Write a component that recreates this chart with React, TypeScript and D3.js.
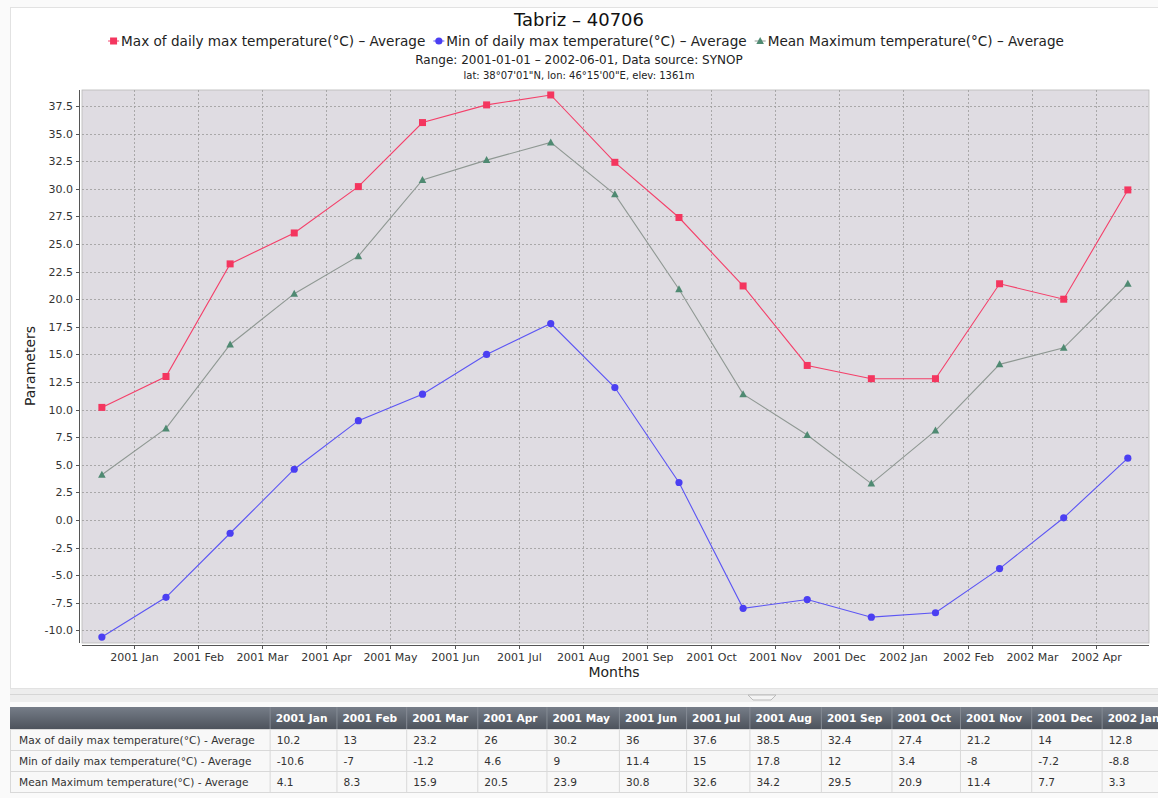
import React, { useEffect, useRef } from 'react';
import * as d3 from 'd3';

// data points, one per month (2001 Jan .. 2002 May)
const MONTHS = [
  '2001 Jan', '2001 Feb', '2001 Mar', '2001 Apr', '2001 May', '2001 Jun',
  '2001 Jul', '2001 Aug', '2001 Sep', '2001 Oct', '2001 Nov', '2001 Dec',
  '2002 Jan', '2002 Feb', '2002 Mar', '2002 Apr', '2002 May',
];
const MAX_OF_MAX = [10.2, 13, 23.2, 26, 30.2, 36, 37.6, 38.5, 32.4, 27.4, 21.2, 14, 12.8, 12.8, 21.4, 20, 29.9];
const MIN_OF_MAX = [-10.6, -7, -1.2, 4.6, 9, 11.4, 15, 17.8, 12, 3.4, -8, -7.2, -8.8, -8.4, -4.4, 0.2, 5.6];
const MEAN_MAX = [4.1, 8.3, 15.9, 20.5, 23.9, 30.8, 32.6, 34.2, 29.5, 20.9, 11.4, 7.7, 3.3, 8.1, 14.1, 15.6, 21.4];

const SERIES_NAMES = [
  'Max of daily max temperature(°C) – Average',
  'Min of daily max temperature(°C) – Average',
  'Mean Maximum temperature(°C) – Average',
];
const TABLE_NAMES = [
  'Max of daily max temperature(°C) - Average',
  'Min of daily max temperature(°C) - Average',
  'Mean Maximum temperature(°C) - Average',
];
const X_TICK_LABELS = [
  '2001 Jan', '2001 Feb', '2001 Mar', '2001 Apr', '2001 May', '2001 Jun',
  '2001 Jul', '2001 Aug', '2001 Sep', '2001 Oct', '2001 Nov', '2001 Dec',
  '2002 Jan', '2002 Feb', '2002 Mar', '2002 Apr',
];
const Y_TICKS = [-10, -7.5, -5, -2.5, 0, 2.5, 5, 7.5, 10, 12.5, 15, 17.5, 20, 22.5, 25, 27.5, 30, 32.5, 35, 37.5];

const COLORS = ['#f4365f', '#4b3ff2', '#4f8a72'];
const LINE_COLORS = ['#f4406a', '#5c55f4', '#8f9893'];
const FONT = '"DejaVu Sans", sans-serif';
const TABLE_FONT = '"DejaVu Sans", sans-serif';

function marker(g: any, shape: number, x: number, y: number, color: string) {
  if (shape === 0) {
    g.append('rect').attr('x', x - 3.5).attr('y', y - 3.5).attr('width', 7).attr('height', 7).attr('fill', color);
  } else if (shape === 1) {
    g.append('circle').attr('cx', x).attr('cy', y).attr('r', 3.6).attr('fill', color);
  } else {
    g.append('path').attr('d', `M${x},${y - 4}L${x + 3.8},${y + 3}L${x - 3.8},${y + 3}Z`).attr('fill', color);
  }
}

export default function App() {
  const ref = useRef<SVGSVGElement>(null);

  useEffect(() => {
    const svg = d3.select(ref.current);
    svg.selectAll('*').remove();

    const W = 1158, H = 798;
    const plot = { left: 82, right: 1149, top: 90, bottom: 643 };

    svg.append('rect').attr('width', W).attr('height', H).attr('fill', '#fafafa');
    // chart panel
    svg.append('rect').attr('x', 10.5).attr('y', 7.5).attr('width', W - 10).attr('height', 681)
      .attr('fill', '#fff').attr('stroke', '#e2e2e2');

    const x = d3.scaleLinear().domain([-0.31, 16.33]).range([plot.left, plot.right]);
    const y = d3.scaleLinear().domain([-11.14, 38.95]).range([plot.bottom, plot.top]);

    // titles
    svg.append('text').attr('x', 579).attr('y', 26).attr('text-anchor', 'middle')
      .attr('font-family', FONT).attr('font-size', 18).attr('fill', '#111').text('Tabriz – 40706');
    svg.append('text').attr('x', 579).attr('y', 64).attr('text-anchor', 'middle')
      .attr('font-family', FONT).attr('font-size', 12).attr('fill', '#222')
      .text('Range: 2001-01-01 – 2002-06-01, Data source: SYNOP');
    svg.append('text').attr('x', 579).attr('y', 79).attr('text-anchor', 'middle')
      .attr('font-family', FONT).attr('font-size', 10).attr('fill', '#222')
      .text('lat: 38°07\'01"N, lon: 46°15\'00"E, elev: 1361m');

    // legend
    const legend = svg.append('g');
    let lx = 0;
    SERIES_NAMES.forEach((name, i) => {
      const item = legend.append('g').attr('transform', `translate(${lx},0)`);
      item.append('line').attr('x1', 0).attr('x2', 11).attr('y1', 0).attr('y2', 0)
        .attr('stroke', LINE_COLORS[i]).attr('stroke-width', 1);
      marker(item, i, 5.5, 0, COLORS[i]);
      const t = item.append('text').attr('x', 13).attr('y', 5).attr('font-family', FONT)
        .attr('font-size', 13.6).attr('fill', '#222').text(name);
      lx += 13 + (t.node() as SVGTextElement).getComputedTextLength() + 8;
    });
    legend.attr('transform', `translate(${586 - (lx - 8) / 2},41)`);

    // plot background and grid
    svg.append('rect').attr('x', plot.left).attr('y', plot.top)
      .attr('width', plot.right - plot.left).attr('height', plot.bottom - plot.top)
      .attr('fill', '#dfdce2').attr('stroke', '#b8b8b8').attr('stroke-width', 0.8);

    const grid = svg.append('g').attr('stroke', '#9a9a9a').attr('stroke-width', 0.8)
      .attr('stroke-dasharray', '2,2');
    Y_TICKS.forEach(v => {
      grid.append('line').attr('x1', plot.left).attr('x2', plot.right)
        .attr('y1', Math.round(y(v)) + 0.5).attr('y2', Math.round(y(v)) + 0.5);
    });
    X_TICK_LABELS.forEach((_, i) => {
      grid.append('line').attr('y1', plot.top).attr('y2', plot.bottom)
        .attr('x1', Math.round(x(i + 0.5)) + 0.5).attr('x2', Math.round(x(i + 0.5)) + 0.5);
    });

    // axes
    const axisY = svg.append('g').attr('font-family', FONT).attr('font-size', 11).attr('fill', '#333');
    axisY.append('line').attr('x1', 79.5).attr('x2', 79.5).attr('y1', plot.top).attr('y2', plot.bottom)
      .attr('stroke', '#555');
    Y_TICKS.forEach(v => {
      axisY.append('line').attr('x1', 76).attr('x2', 79.5)
        .attr('y1', Math.round(y(v)) + 0.5).attr('y2', Math.round(y(v)) + 0.5).attr('stroke', '#555');
      axisY.append('text').attr('x', 73).attr('y', y(v) + 4).attr('text-anchor', 'end').text(v.toFixed(1));
    });
    const axisX = svg.append('g').attr('font-family', FONT).attr('font-size', 11).attr('fill', '#333');
    axisX.append('line').attr('x1', plot.left).attr('x2', plot.right).attr('y1', 645.5).attr('y2', 645.5)
      .attr('stroke', '#555');
    X_TICK_LABELS.forEach((lab, i) => {
      const tx = Math.round(x(i + 0.5)) + 0.5;
      axisX.append('line').attr('x1', tx).attr('x2', tx).attr('y1', 645.5).attr('y2', 649).attr('stroke', '#555');
      axisX.append('text').attr('x', tx).attr('y', 661).attr('text-anchor', 'middle').text(lab);
    });

    svg.append('text').attr('transform', 'translate(35,366) rotate(-90)').attr('text-anchor', 'middle')
      .attr('font-family', FONT).attr('font-size', 14).attr('fill', '#222').text('Parameters');
    svg.append('text').attr('x', 614).attr('y', 677).attr('text-anchor', 'middle')
      .attr('font-family', FONT).attr('font-size', 14).attr('fill', '#222').text('Months');

    // series
    [MAX_OF_MAX, MIN_OF_MAX, MEAN_MAX].forEach((vals, s) => {
      const line = d3.line<number>().x((_, i) => x(i)).y(d => y(d));
      svg.append('path').attr('d', line(vals)).attr('fill', 'none')
        .attr('stroke', LINE_COLORS[s]).attr('stroke-width', 1.1);
      const mg = svg.append('g');
      vals.forEach((v, i) => marker(mg, s, x(i), y(v), COLORS[s]));
    });

    // splitter between chart and table
    svg.append('rect').attr('x', 10).attr('y', 689).attr('width', W - 10).attr('height', 13).attr('fill', '#ededed');
    svg.append('line').attr('x1', 10).attr('x2', W).attr('y1', 694.5).attr('y2', 694.5).attr('stroke', '#d6d6d6');
    svg.append('path').attr('d', 'M748,695 L776,695 L771,700 L753,700 Z').attr('fill', '#f4f4f4').attr('stroke', '#bbb');

    // data table (columns size to their header text; the view cuts it at the right edge)
    const canvas = document.createElement('canvas');
    const ctx = canvas.getContext('2d')!;
    const FS = 10.6;
    const measure = (txt: string, weight: string) => {
      ctx.font = `${weight} ${FS}px ${TABLE_FONT}`;
      return ctx.measureText(txt).width;
    };
    const tTop = 707, headH = 22, rowH = 21;
    const firstW = d3.max(TABLE_NAMES, n => measure(n, 'normal'))! + 24;
    const colX: number[] = [10];
    let cx = 10 + firstW;
    MONTHS.forEach(m => { colX.push(cx); cx += measure(m, 'bold') + 15; });
    colX.push(cx);
    const shown = MONTHS.filter((_, j) => colX[j + 1] < W - 20);

    const defs = svg.append('defs');
    const grad = defs.append('linearGradient').attr('id', 'hdr').attr('x1', 0).attr('x2', 0).attr('y1', 0).attr('y2', 1);
    grad.append('stop').attr('offset', '0%').attr('stop-color', '#767d88');
    grad.append('stop').attr('offset', '100%').attr('stop-color', '#4d535c');

    const table = svg.append('g').attr('font-family', TABLE_FONT).attr('font-size', FS);
    table.append('rect').attr('x', 10).attr('y', tTop).attr('width', W - 10).attr('height', headH).attr('fill', 'url(#hdr)');
    shown.forEach((m, j) => {
      table.append('text').attr('x', colX[j + 1] + 6).attr('y', tTop + 15).attr('fill', '#fff')
        .attr('font-weight', 'bold').text(m);
      table.append('line').attr('x1', colX[j + 1] + 0.5).attr('x2', colX[j + 1] + 0.5)
        .attr('y1', tTop).attr('y2', tTop + headH).attr('stroke', '#858b94');
    });
    [MAX_OF_MAX, MIN_OF_MAX, MEAN_MAX].forEach((vals, r) => {
      const ry = tTop + headH + r * rowH;
      table.append('rect').attr('x', 10.5).attr('y', ry + 0.5).attr('width', W - 10).attr('height', rowH)
        .attr('fill', '#f8f8f8').attr('stroke', '#d9d9d9');
      table.append('text').attr('x', 19).attr('y', ry + 15).attr('fill', '#333').text(TABLE_NAMES[r]);
      vals.slice(0, shown.length).forEach((v, j) => {
        table.append('line').attr('x1', colX[j + 1] + 0.5).attr('x2', colX[j + 1] + 0.5)
          .attr('y1', ry).attr('y2', ry + rowH).attr('stroke', '#d9d9d9');
        table.append('text').attr('x', colX[j + 1] + 7).attr('y', ry + 15).attr('fill', '#333').text(String(v));
      });
    });
  }, []);

  return (
    <svg ref={ref} width={1158} height={798}
      style={{ position: 'absolute', left: 0, top: 0, display: 'block' }} />
  );
}
